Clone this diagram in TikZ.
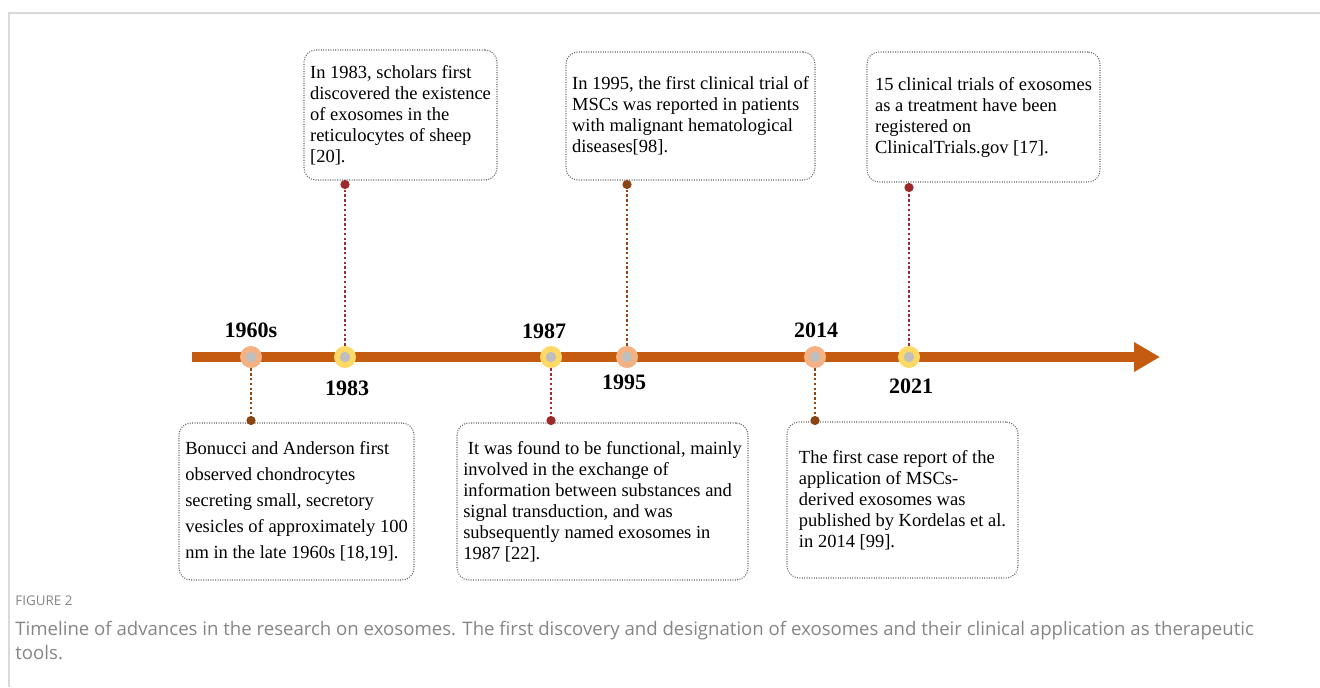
\documentclass[tikz,border=0pt]{standalone}
\usepackage{fontspec}
\setmainfont{Liberation Serif}
\newfontfamily\captionfont{Open Sans}
\usetikzlibrary{arrows.meta, positioning}
\definecolor{lineorange}{HTML}{C55A11}
\definecolor{peachfill}{HTML}{F4B183}
\definecolor{goldfill}{HTML}{FFD966}
\definecolor{corefill}{HTML}{BFBFBF}
\definecolor{linkred}{HTML}{9C2A2A}
\definecolor{linkbrown}{HTML}{8B4513}
\definecolor{framegray}{HTML}{D9D9D9}
\definecolor{capgray}{HTML}{858585}

\begin{document}
\begin{tikzpicture}[
    x=0.5pt, y=-0.5pt,
    event/.style = {circle, inner sep=0pt, minimum size=11pt,
                    path picture={\fill[corefill] (path picture bounding box.center) circle (2.6pt);}},
    peach/.style = {event, fill=peachfill},
    gold/.style  = {event, fill=goldfill},
    year/.style  = {font=\fontsize{11}{13}\selectfont\bfseries, inner sep=0pt},
    note/.style  = {rectangle, rounded corners=6pt, draw=black!60, line width=0.55pt,
                    dash pattern=on 0.5pt off 0.7pt,
                    align=left, inner sep=0pt, font=\fontsize{9.25}{10.5}\selectfont},
    link/.style  = {line width=1.3pt, dash pattern=on 1.2pt off 1.2pt, -{Circle[length=4.5pt]}},
    linkr/.style = {link, color=linkred},
    linkb/.style = {link, color=linkbrown},
    spine/.style = {line width=5pt, color=lineorange, -{Triangle[length=13pt, width=14pt]}}
  ]
  \useasboundingbox (0,0) rectangle (1320,687);

  % frame
  \draw[framegray, line width=1pt] (9,687) -- (9,13) -- (1320,13);

  % time axis
  \coordinate (tstart) at (192,357);
  \coordinate (tend)   at (1160,357);
  \draw[spine] (tstart) -- (tend);

  \node[peach] (m1960) at (251,357) {};
  \node[gold]  (m1983) at (345,357) {};
  \node[gold]  (m1987) at (551,357) {};
  \node[peach] (m1995) at (627,357) {};
  \node[peach] (m2014) at (815,357) {};
  \node[gold]  (m2021) at (909,357) {};

  \node[year] at (251,330) {1960s};
  \node[year] at (347,388) {1983};
  \node[year] at (544,331) {1987};
  \node[year] at (624,382) {1995};
  \node[year] at (816,330) {2014};
  \node[year] at (911,386) {2021};

  % notes above
  \node[note, minimum width=96.5pt, minimum height=65pt] (n1983) at (400.5,115)
    {In 1983, scholars first\\discovered the existence\\of exosomes in the\\reticulocytes of sheep\\{[20]}.};
  \node[note, minimum width=124.5pt, minimum height=64pt] (n1995) at (690.5,116)
    {In 1995, the first clinical trial of\\MSCs was reported in patients\\with malignant hematological\\diseases[98].};
  \node[note, minimum width=116.5pt, minimum height=65pt] (n2021) at (983.5,117)
    {15 clinical trials of exosomes\\as a treatment have been\\registered on\\ClinicalTrials.gov [17].};

  % notes below
  \node[note, minimum width=117.5pt, minimum height=78.5pt,
        font=\fontsize{9.25}{13}\selectfont] (n1960) at (296.5,501.5)
    {Bonucci and Anderson first\\observed chondrocytes\\secreting small, secretory\\vesicles of approximately 100\\nm in the late 1960s [18,19].};
  \node[note, minimum width=145.5pt, minimum height=78.5pt] (n1987) at (602.5,501.5)
    {\ It was found to be functional, mainly\\involved in the exchange of\\information between substances and\\signal transduction, and was\\subsequently named exosomes in\\1987 [22].};
  \node[note, minimum width=115.5pt, minimum height=78pt] (n2014) at (902.5,500)
    {The first case report of the\\application of MSCs-\\derived exosomes was\\published by Kordelas et al.\\in 2014 [99].};

  % leader lines
  \coordinate (t1983) at (345,180);
  \coordinate (t1995) at (627,180);
  \coordinate (t2021) at (909,183);
  \coordinate (t1960) at (251,425);
  \coordinate (t1987) at (551,425);
  \coordinate (t2014) at (815,425);
  \draw[linkr] (m1983) -- (t1983);
  \draw[linkb] (m1995) -- (t1995);
  \draw[linkr] (m2021) -- (t2021);
  \draw[linkb] (m1960) -- (t1960);
  \draw[linkr] (m1987) -- (t1987);
  \draw[linkb] (m2014) -- (t2014);

  % caption
  \node[anchor=west, inner sep=0pt, text=capgray, font=\captionfont\fontsize{6.7}{8}\selectfont] (fig) at (15,601) {FIGURE 2};
  \node[anchor=north west, inner sep=0pt, align=left, text=capgray,
        font=\captionfont\fontsize{9.3}{12}\selectfont] (cap) at (15,621)
    {Timeline of advances in the research on exosomes. The first discovery and designation of exosomes and their clinical application as therapeutic\\tools.};
\end{tikzpicture}
\end{document}
